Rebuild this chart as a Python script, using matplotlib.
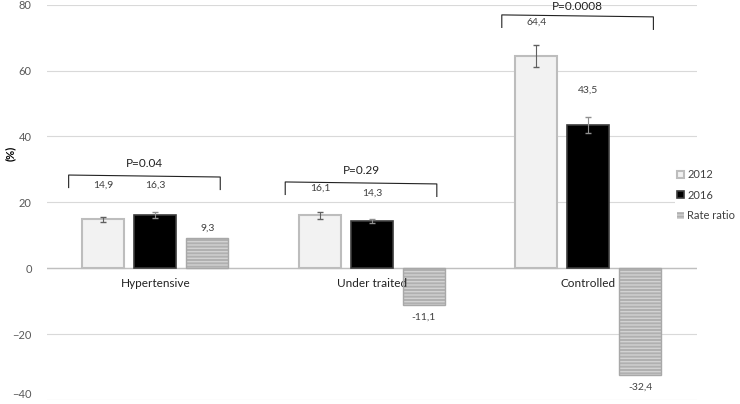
import matplotlib.pyplot as plt
import numpy as np

plt.rcParams['font.family'] = ['Lato', 'DejaVu Sans']
plt.rcParams['hatch.linewidth'] = 1.0

categories = ["Hypertensive", "Under traited", "Controlled"]
y2012 = [14.9, 16.1, 64.4]
y2016 = [16.3, 14.3, 43.5]
rate_ratio = [9.3, -11.1, -32.4]
err2012 = [0.8, 1.0, 3.3]
err2016 = [0.9, 0.6, 2.3]
p_values = ["P=0.04", "P=0.29", "P=0.0008"]

# label heights as placed in the original chart
lab2012_y = [25.3, 24.4, 74.7]
lab2016_y = [25.3, 22.9, 54.0]
labrate_y = [12.1, -14.8, -36.1]
bracket_top = [28.3, 26.2, 76.9]
bracket_drop = 3.8

fig = plt.figure(figsize=(7.4, 4.04), dpi=100)
ax = fig.add_axes([0.0635, 0.0097, 0.878, 0.9787])

x = np.arange(len(categories))
w = 0.194
off = 0.24

b1 = ax.bar(x - off, y2012, w, color="#f2f2f2", edgecolor="#bdbdbd", linewidth=1.5, zorder=3, label="2012")
b2 = ax.bar(x, y2016, w, color="#000000", edgecolor="#3c3c3c", linewidth=1.2, zorder=3, label="2016")
b3 = ax.bar(x + off, rate_ratio, w, color="#b0b0b0", edgecolor="#d2d2d2", linewidth=0,
            hatch="-----", zorder=3, label="Rate ratio")
ax.bar(x + off, rate_ratio, w, color="none", edgecolor="#a8a8a8", linewidth=1.0, zorder=4)

ax.errorbar(x - off, y2012, yerr=err2012, fmt="none", ecolor="#606060", elinewidth=0.8, capsize=2.5, zorder=5)
ax.errorbar(x, y2016, yerr=err2016, fmt="none", ecolor="#909090", elinewidth=0.8, capsize=2.5, zorder=5)

def fmt(v):
    return f"{v:.1f}".replace(".", ",")

for i in range(len(categories)):
    ax.text(x[i] - off, lab2012_y[i], fmt(y2012[i]), ha="center", va="center", fontsize=7.5, color="#404040")
    ax.text(x[i], lab2016_y[i], fmt(y2016[i]), ha="center", va="center", fontsize=7.5, color="#404040")
    ax.text(x[i] + off, labrate_y[i], fmt(rate_ratio[i]), ha="center", va="center", fontsize=7.5, color="#404040")
    # bracket with p value
    left, right = x[i] - 0.4, x[i] + 0.3
    top = bracket_top[i]
    ax.plot([left, left, right, right], [top - bracket_drop, top, top - 0.6, top - 0.6 - bracket_drop],
            color="#222222", lw=0.8, zorder=5, clip_on=False)
    ax.text(x[i] - 0.05, min(top + 3.6, 79.6), p_values[i], ha="center", va="center", fontsize=8.5,
            color="#222222", clip_on=False)
    ax.text(x[i], -4.5, categories[i], ha="center", va="center", fontsize=8.5, color="#222222")

ax.set_xlim(-0.5, 2.5)
ax.set_ylim(-40, 80)
ax.set_yticks(np.arange(-40, 81, 20))
ax.set_xticks([])
ax.tick_params(axis="y", length=0, labelsize=8, labelcolor="#595959", pad=11)
ax.yaxis.get_major_ticks()[0].label1.set_verticalalignment("bottom")
ax.grid(axis="y", color="#d9d9d9", lw=0.8, zorder=0)
ax.axhline(0, color="#bfbfbf", lw=1.0, zorder=2)
for s in ax.spines.values():
    s.set_visible(False)

fig.text(10 / 740, 1 - 153 / 404, "(%)", rotation=90, ha="center", va="center", fontsize=8, fontweight="bold")

leg = ax.legend(handles=[b1, b2, b3], loc="upper left", bbox_to_anchor=(675 / 740, 1 - 167 / 404),
                bbox_transform=fig.transFigure, frameon=True, fontsize=8, handlelength=0.6, handleheight=0.6,
                handletextpad=0.3, labelspacing=0.85, borderpad=0.2, borderaxespad=0)
leg.get_frame().set_edgecolor("none")
leg.get_frame().set_facecolor("white")
leg.get_frame().set_alpha(1)
for t in leg.get_texts():
    t.set_color("#404040")

fig.savefig("out.png", dpi=100)
